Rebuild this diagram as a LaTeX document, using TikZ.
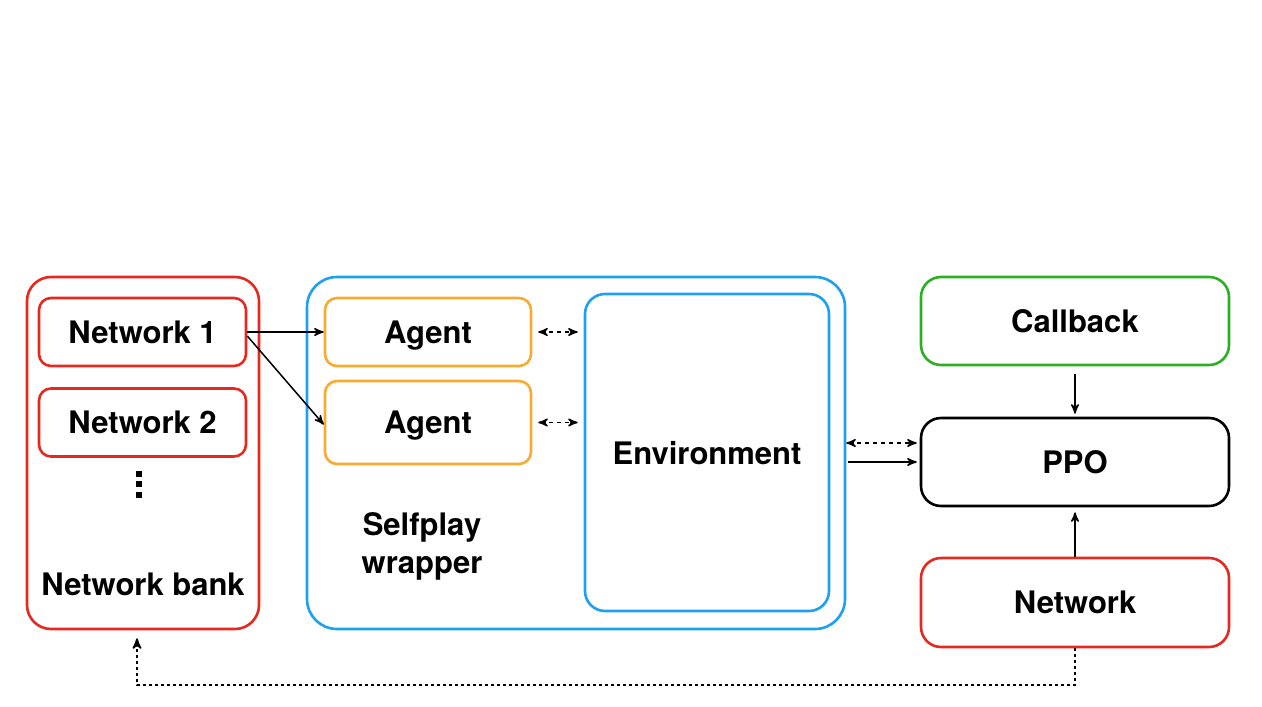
\documentclass[tikz,border=0pt]{standalone}
\usepackage{fontspec}
\setmainfont{TeX Gyre Heros}
\usepackage{tikz}
\usetikzlibrary{arrows,calc}

\definecolor{netred}{RGB}{229,40,32}
\definecolor{wrapblue}{RGB}{30,160,242}
\definecolor{agentorange}{RGB}{249,170,50}
\definecolor{cbgreen}{RGB}{44,174,37}

\begin{document}
\begin{tikzpicture}[x=0.5pt,y=-0.5pt,>=stealth',semithick,
                    font=\fontsize{15.5}{19}\selectfont\bfseries]
  \tikzstyle{box}=[draw, line width=1.3pt, anchor=center, inner sep=0pt, text depth=0pt]
  \tikzstyle{small}=[box, rounded corners=6pt, minimum width=103.5pt, minimum height=34pt]
  \tikzstyle{big}=[box, rounded corners=10pt, minimum width=154pt, minimum height=44pt]
  \tikzstyle{flow}=[->, line width=0.75pt]
  \tikzstyle{talk}=[<->, line width=0.75pt, dash pattern=on 2pt off 2pt]

  \useasboundingbox (0,0) rectangle (1262,706);

  % network bank
  \node[box, draw=netred, rounded corners=12pt, minimum width=116pt,
        minimum height=176pt] (bank) at (143,453) {};
  \node[small, draw=netred] (net1) at (142.5,332) {Network 1};
  \node[small, draw=netred] (net2) at (142.5,422.5) {Network 2};
  \foreach \y in {474,484,495}
    \fill (136,\y-2.8) rectangle ++(5.6,5.6);
  \node (banklab) at (143,584) {Network bank};

  % selfplay wrapper
  \node[box, draw=wrapblue, rounded corners=15pt, minimum width=269pt,
        minimum height=176pt] (wrap) at (576,453) {};
  \node[small, draw=agentorange, minimum width=103pt] (agent1) at (428,332) {Agent};
  \node[small, draw=agentorange, minimum width=103pt, minimum height=41.5pt]
        (agent2) at (428,422.5) {Agent};
  \node[box, draw=wrapblue, rounded corners=10pt, minimum width=122pt,
        minimum height=158.5pt] (env) at (707,452.5) {Environment};
  \node[align=center] (wraplab) at (422,546) {Selfplay\\wrapper};

  % training side
  \node[big, draw=cbgreen] (cb) at (1075,321) {Callback};
  \node[big, draw=black] (ppo) at (1075,462) {PPO};
  \node[big, draw=netred, minimum height=44.5pt] (net) at (1075,602.5) {Network};
  \coordinate (ppoin) at ([yshift=9.5pt]ppo.west);
  \coordinate (bankin) at ([xshift=-3pt]bank.south);

  \draw[flow] (net1.east) -- (agent1.west);
  \draw[flow] ([yshift=-2pt]net1.east) -- ([yshift=-1pt]agent2.west);
  \draw[talk, shorten <=3pt, shorten >=3pt] (agent1.east) -- (env.west |- agent1.east);
  \draw[talk, shorten <=3pt, shorten >=3pt] (agent2.east) -- (env.west |- agent2.east);
  \draw[talk, shorten >=1.5pt] (wrap.east |- ppoin) -- (ppoin);
  \draw[flow, shorten <=1pt, shorten >=1.5pt] (wrap.east |- ppo.west) -- (ppo.west);
  \draw[flow, shorten <=4pt, shorten >=1.5pt] (cb.south) -- (ppo.north);
  \draw[flow, shorten >=2.5pt] (net.north) -- (ppo.south);
  \draw[flow, line width=0.9pt, dash pattern=on 1.5pt off 1.5pt, shorten >=4pt]
        (net.south) -- ++(0,37) -| (bankin);
\end{tikzpicture}
\end{document}
